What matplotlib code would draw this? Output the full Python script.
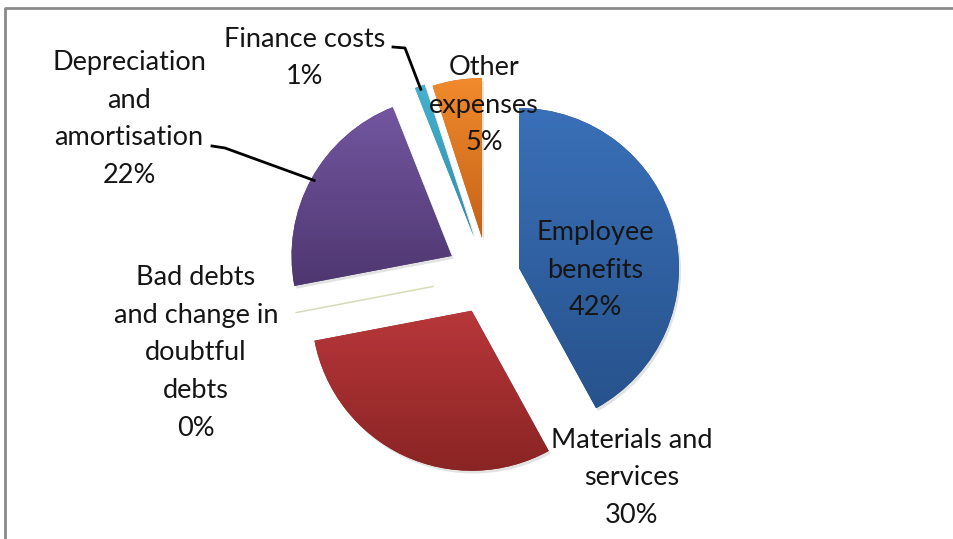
import numpy as np
import matplotlib
matplotlib.use('Agg')
import matplotlib.pyplot as plt
from matplotlib.colors import LinearSegmentedColormap
from matplotlib.lines import Line2D
import matplotlib.patheffects as pe

plt.rcParams['font.family'] = ['Lato', 'DejaVu Sans']

# expense breakdown, clockwise from 12 o'clock
categories = ['Employee\nbenefits', 'Materials and\nservices',
              'Bad debts\nand change in\ndoubtful\ndebts',
              'Depreciation\nand\namortisation', 'Finance costs', 'Other\nexpenses']
shares = [42, 30, 0, 22, 1, 5]
explode = [0.20, 0.24, 0.30, 0.26, 0.26, 0.24]

# (top, bottom) gradient colours for each slice
top_colors = ['#3a70b8', '#b8373a', '#d6dcb8', '#7356a0', '#45b2cf', '#f08a2c']
bottom_colors = ['#27528c', '#8a2424', '#d6dcb8', '#4e3770', '#2d8fab', '#c66218']

# label centres and leader elbows in pixels (x from left, y from top)
label_pos = [(595, 270), (632, 478), (196, 353), (129, 119), (305, 58), (484, 105)]
leaders = {3: (225, 148), 4: (405, 48)}
leader_start = {3: (212, 146), 4: (393, 47)}

W, H = 954, 539
CX, CY, R_PX = 488, 276, 160


def to_data(px, py):
    return (px - CX) / R_PX, (CY - py) / R_PX


fig = plt.figure(figsize=(W / 100, H / 100), dpi=100)
ax = fig.add_axes([0, 0, 1, 1])
ax.axis('off')

wedges, _ = ax.pie(shares, startangle=90, counterclock=False, explode=explode,
                   radius=1, center=(0, 0), labels=None,
                   wedgeprops=dict(linewidth=0))

for i, w in enumerate(wedges):
    if shares[i] == 0:
        # a zero share shows up as a thin line along the slice edge
        ang = np.deg2rad(w.theta1)
        cx, cy = w.center
        ax.plot([cx + 0.05 * np.cos(ang), cx + 0.92 * np.cos(ang)],
                [cy + 0.05 * np.sin(ang), cy + 0.92 * np.sin(ang)],
                color=top_colors[i], lw=1.1, zorder=3)
        continue
    w.set_facecolor(bottom_colors[i])
    w.set_path_effects([pe.SimplePatchShadow(offset=(1.5, -2), shadow_rgbFace='#808080', alpha=0.22),
                        pe.Normal()])
    verts = w.get_path().vertices
    x0, y0 = verts.min(axis=0)
    x1, y1 = verts.max(axis=0)
    cmap = LinearSegmentedColormap.from_list('g%d' % i, [top_colors[i], bottom_colors[i]])
    grad = np.linspace(0, 1, 256).reshape(-1, 1)
    im = ax.imshow(grad, cmap=cmap, extent=[x0, x1, y0, y1], origin='upper',
                   aspect='auto', zorder=2, interpolation='bilinear')
    im.set_clip_path(w)

# data labels
for i, w in enumerate(wedges):
    label = categories[i] + '\n' + '%d%%' % shares[i]
    tx, ty = to_data(*label_pos[i])
    ax.text(tx, ty, label, ha='center', va='center', multialignment='center',
            fontsize=19.5, color='#151515', linespacing=1.63, zorder=5)

# leader lines for the far labels, ending at the slice's arc midpoint
for i in leaders:
    w = wedges[i]
    mid = np.deg2rad((w.theta1 + w.theta2) / 2)
    end = (w.center[0] + 0.98 * np.cos(mid), w.center[1] + 0.98 * np.sin(mid))
    sx, sy = to_data(*leader_start[i])
    ex, ey = to_data(*leaders[i])
    ax.plot([sx, ex, end[0]], [sy, ey, end[1]], color='black', lw=2,
            solid_joinstyle='round', zorder=4)

ax.set_xlim(-CX / R_PX, (W - CX) / R_PX)
ax.set_ylim((CY - H) / R_PX, CY / R_PX)
ax.set_aspect('equal')

# chart area border (left and top edges)
fig.add_artist(Line2D([5 / W, 5 / W, 1], [0, 1 - 8 / H, 1 - 8 / H],
                      transform=fig.transFigure, color='#8a8a8a', lw=2))

fig.savefig('out.png', dpi=100)
